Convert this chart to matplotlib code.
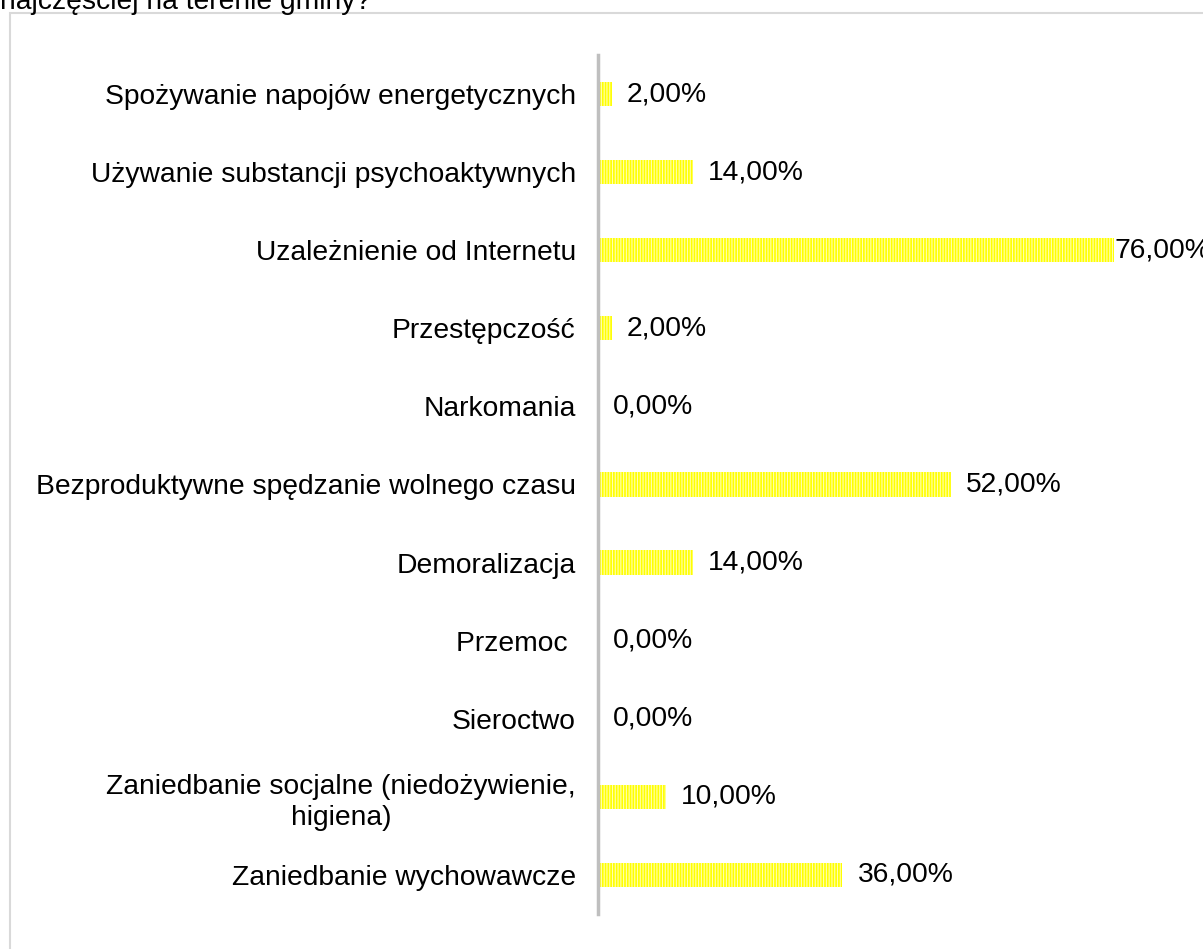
import matplotlib.pyplot as plt
from matplotlib.patches import Rectangle

plt.rcParams['font.family'] = ['Liberation Sans', 'DejaVu Sans']
plt.rcParams['hatch.linewidth'] = 0.8

categories = [
    "Spożywanie napojów energetycznych",
    "Używanie substancji psychoaktywnych",
    "Uzależnienie od Internetu",
    "Przestępczość",
    "Narkomania",
    "Bezproduktywne spędzanie wolnego czasu",
    "Demoralizacja",
    "Przemoc ",
    "Sieroctwo",
    "Zaniedbanie socjalne (niedożywienie,\nhigiena)",
    "Zaniedbanie wychowawcze",
]
values = [2, 14, 76, 2, 0, 52, 14, 0, 0, 10, 36]
title = "najczęściej na terenie gminy?"

W, H = 1203, 949
fs = 20.3
fig = plt.figure(figsize=(W / 100, H / 100), dpi=100)

# ramka wykresu
fig.patches.append(Rectangle((10 / W, -0.1), 1.2, 1 - 13 / H + 0.1,
                             transform=fig.transFigure, fill=False,
                             edgecolor='#D9D9D9', linewidth=1.5))
fig.text(0, 1 - 9 / H, title, fontsize=fs, va='baseline', ha='left')

ax = fig.add_axes([598 / W, 1 - 914 / H, (1114 - 598) / W, (914 - 55) / H])
y = list(range(len(categories)))
ax.barh(y, values, height=0.31, color='#FFFF00', edgecolor='#FFFFB0',
        linewidth=0, hatch='|' * 6)
ax.set_xlim(0, 76)
ax.set_ylim(len(categories) - 0.5, -0.5)

for yi, v in zip(y, values):
    off = 15 if v < 70 else 1
    ax.annotate(f"{v:.2f}%".replace('.', ','), (v, yi), xytext=(off * 0.72, 0),
                textcoords='offset points', va='center', ha='left',
                fontsize=fs, annotation_clip=False)

ax.set_yticks(y)
ax.set_yticklabels(categories, fontsize=fs, multialignment='center',
                   linespacing=1.25)
ax.tick_params(axis='y', length=0, pad=16)
ax.set_xticks([])
for s in ['top', 'right', 'bottom']:
    ax.spines[s].set_visible(False)
ax.spines['left'].set_color('#BFBFBF')
ax.spines['left'].set_linewidth(2.5)
ax.set_facecolor('none')

fig.savefig('out.png', dpi=100)
